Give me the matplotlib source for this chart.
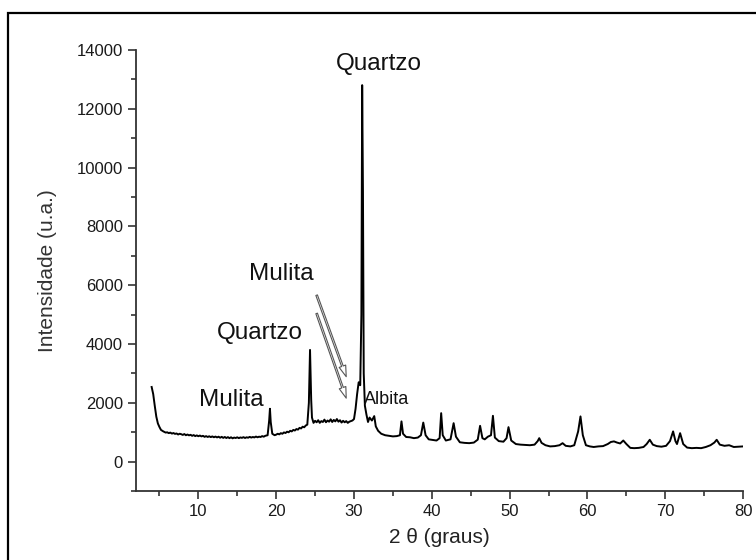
import matplotlib
matplotlib.use("Agg")
import matplotlib.pyplot as plt
from matplotlib.patches import Rectangle
from matplotlib.ticker import MultipleLocator

plt.rcParams['font.family'] = ['Liberation Sans', 'DejaVu Sans']

# difratograma: 2 theta (graus) e intensidade (u.a.)
two_theta = [
    4.0, 4.2, 4.4, 4.6, 4.8, 5.0, 5.2, 5.5, 5.8, 6.0, 6.2, 6.4, 6.6, 6.8, 7.0,
    7.2, 7.4, 7.6, 7.8, 8.0, 8.2, 8.4, 8.6, 8.8, 9.0, 9.2, 9.4, 9.6, 9.8,
    10.0, 10.2, 10.4, 10.6, 10.8, 11.0, 11.2, 11.4, 11.6, 11.8, 12.0, 12.2,
    12.4, 12.6, 12.8, 13.0, 13.2, 13.4, 13.6, 13.8, 14.0, 14.2, 14.4, 14.6,
    14.8, 15.0, 15.2, 15.4, 15.6, 15.8, 16.0, 16.2, 16.4, 16.6, 16.8, 17.0,
    17.2, 17.4, 17.6, 17.8, 18.0, 18.2, 18.4, 18.6, 18.9, 19.1, 19.2, 19.3,
    19.5, 19.8, 20.0, 20.2, 20.4, 20.6, 20.8, 21.0, 21.2, 21.4, 21.6, 21.8,
    22.0, 22.2, 22.4, 22.6, 22.8, 23.0, 23.2, 23.4, 23.6, 23.8, 24.0, 24.2,
    24.35, 24.5, 24.6, 24.8, 25.0, 25.2, 25.4, 25.6, 25.8, 26.0, 26.2, 26.4,
    26.6, 26.8, 27.0, 27.2, 27.4, 27.6, 27.8, 28.0, 28.2, 28.4, 28.6, 28.8,
    29.0, 29.2, 29.4, 29.6, 29.8, 30.0, 30.2, 30.4, 30.6, 30.8, 30.95, 31.05,
    31.15, 31.25, 31.4, 31.6, 31.8, 32.0, 32.3, 32.6, 32.8, 33.1, 33.5, 34.0,
    34.5, 35.0, 35.5, 35.9, 36.1, 36.3, 36.7, 37.2, 37.7, 38.2, 38.6, 38.9,
    39.2, 39.6, 40.1, 40.6, 41.0, 41.2, 41.4, 41.8, 42.4, 42.8, 43.1, 43.6,
    44.2, 44.8, 45.4, 45.9, 46.2, 46.5, 46.8, 47.2, 47.6, 47.85, 48.1, 48.6,
    49.2, 49.6, 49.85, 50.2, 50.8, 51.4, 52.0, 52.6, 53.2, 53.6, 53.8, 54.1,
    54.6, 55.2, 55.8, 56.4, 56.8, 57.2, 57.8, 58.3, 58.8, 59.1, 59.4, 59.8,
    60.3, 60.8, 61.4, 62.0, 62.6, 63.0, 63.4, 63.8, 64.2, 64.6, 65.0, 65.5,
    66.0, 66.6, 67.2, 67.6, 68.0, 68.4, 68.9, 69.5, 70.1, 70.6, 71.0, 71.3,
    71.5, 71.9, 72.3, 72.8, 73.4, 74.0, 74.6, 75.2, 75.8, 76.3, 76.6, 77.0,
    77.6, 78.2, 78.8, 79.4, 80.0,
]
intensity = [
    2540, 2300, 1900, 1530, 1300, 1180, 1080, 1030, 990,
    1000, 970, 990, 955, 975, 945, 960, 925, 950, 935,
    910, 940, 900, 925, 895, 915, 880, 905, 870, 895,
    865, 890, 860, 880, 845, 870, 840, 865, 835, 860,
    830, 855, 825, 850, 815, 845, 810, 840, 805, 835,
    800, 830, 795, 820, 805, 830, 800, 825, 810, 835,
    805, 830, 815, 845, 820, 840, 825, 855, 830, 850,
    840, 870, 850, 880,
    900, 1400, 1800, 1350, 950, 900,
    920, 950, 930, 970, 950, 995, 975, 1020, 1000, 1050, 1030, 1080, 1060,
    1110, 1090, 1150, 1130, 1190, 1170, 1230, 1260,
    2000, 3800, 2100, 1500, 1320,
    1390, 1340, 1410, 1320, 1380, 1350, 1430, 1340, 1400, 1360, 1440, 1350,
    1420, 1370, 1450, 1360, 1410, 1330, 1390, 1340, 1380, 1320, 1360, 1380,
    1400, 1450,
    1800, 2300, 2700, 2600, 5000, 12800, 9200, 3000, 1900, 1600, 1350, 1500,
    1400, 1550, 1200, 1050, 950, 900, 880, 860, 870, 900, 1370, 950, 840, 830,
    800, 820, 900, 1330, 900, 760, 740, 720, 800, 1650, 900, 720, 760, 1310,
    850, 660, 640, 630, 650, 750, 1220, 800, 760, 850, 900, 1560, 820, 700,
    680, 800, 1175, 720, 600, 580, 570, 560, 580, 700, 800, 640, 560, 520,
    530, 560, 630, 540, 520, 560, 1030, 1540, 900, 560, 520, 500, 520, 530,
    600, 670, 690, 650, 620, 720, 600, 470, 460, 470, 500, 600, 745, 580, 530,
    510, 540, 700, 1030, 700, 600, 970, 600, 480, 460, 470, 460, 500, 560,
    650, 745, 580, 540, 560, 500, 510, 520,
]

# rotulos das fases
phase_labels = ["Quartzo", "Mulita", "Quartzo", "Mulita", "Albita"]
label_x = [33.2, 20.7, 17.9, 14.2, 34.2]
label_y = [13530, 6370, 4370, 2100, 2100]
label_size = [17.5, 17.5, 17.5, 17.5, 13]

# setas das mulitas (cauda -> ponta)
arrow_tail = [(25.2, 5660), (25.2, 5040)]
arrow_head = [(29.0, 2890), (29.0, 2160)]

fig = plt.figure(figsize=(7.56, 5.60), dpi=100)
ax = fig.add_axes([0.180, 0.123, 0.803, 0.788])

ax.plot(two_theta, intensity, color='black', lw=1.4)

for txt, x, y, fs in zip(phase_labels, label_x, label_y, label_size):
    ax.text(x, y, txt, fontsize=fs, ha='center', va='center', color='#111111')

for tail, head in zip(arrow_tail, arrow_head):
    ax.annotate("", xy=head, xytext=tail,
                arrowprops=dict(arrowstyle="simple,head_length=0.8,head_width=0.5,tail_width=0.12",
                                fc='white', ec='#555555', lw=0.8,
                                shrinkA=0, shrinkB=0))

ax.set_xlim(2, 80)
ax.set_ylim(-1000, 14000)
ax.xaxis.set_major_locator(MultipleLocator(10))
ax.xaxis.set_minor_locator(MultipleLocator(5))
ax.yaxis.set_major_locator(MultipleLocator(2000))
ax.yaxis.set_minor_locator(MultipleLocator(1000))

ax.spines['top'].set_visible(False)
ax.spines['right'].set_visible(False)
for s in ['left', 'bottom']:
    ax.spines[s].set_linewidth(1.3)
    ax.spines[s].set_color('#333333')

ax.tick_params(which='major', direction='out', length=6, width=1.2,
               color='#333333', labelsize=12, labelcolor='#1a1a1a')
ax.tick_params(which='minor', direction='out', length=3.5, width=1.2,
               color='#333333')
ax.set_xticks([10, 20, 30, 40, 50, 60, 70, 80])
ax.set_yticks([0, 2000, 4000, 6000, 8000, 10000, 12000, 14000])

ax.set_xlabel("2 θ (graus)", fontsize=15, color='#222222', labelpad=6)
ax.set_ylabel("Intensidade (u.a.)", fontsize=15, color='#333333', labelpad=14)

# moldura externa (cortada a direita e embaixo)
fig.patches.append(Rectangle((8 / 756, -0.1), 1.2, 1 - 12.5 / 560 + 0.1,
                             transform=fig.transFigure, fill=False,
                             ec='black', lw=1.6, clip_on=False))

fig.savefig("out.png", dpi=100)
